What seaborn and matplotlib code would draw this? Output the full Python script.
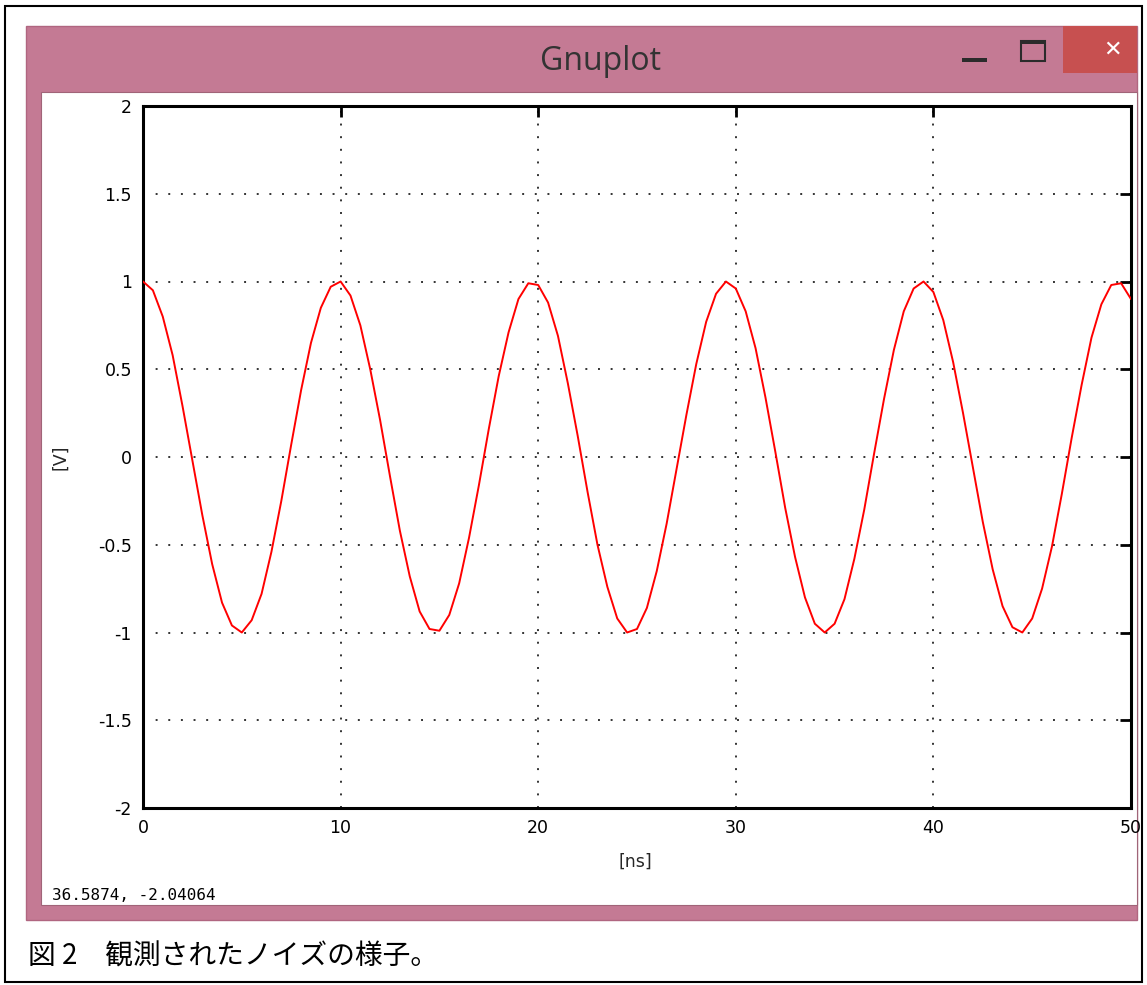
import numpy as np
import pandas as pd
import matplotlib
matplotlib.use("Agg")
import matplotlib.pyplot as plt
from matplotlib.patches import Rectangle
import seaborn as sns

# ---- data (0.5 ns sampling) ----
time_ns = [i * 0.5 for i in range(101)]
voltage = [
    1.00, 0.95, 0.80, 0.58, 0.29, -0.02, -0.33, -0.61, -0.83, -0.96,
    -1.00, -0.93, -0.78, -0.54, -0.25, 0.07, 0.38, 0.65, 0.85, 0.97,
    1.00, 0.92, 0.75, 0.50, 0.21, -0.11, -0.42, -0.68, -0.88, -0.98,
    -0.99, -0.90, -0.72, -0.46, -0.16, 0.16, 0.46, 0.71, 0.90, 0.99,
    0.98, 0.88, 0.69, 0.42, 0.12, -0.20, -0.50, -0.74, -0.92, -1.00,
    -0.98, -0.86, -0.65, -0.38, -0.07, 0.24, 0.53, 0.77, 0.93, 1.00,
    0.96, 0.83, 0.62, 0.34, 0.03, -0.29, -0.57, -0.80, -0.95, -1.00,
    -0.95, -0.81, -0.58, -0.30, 0.02, 0.33, 0.61, 0.83, 0.96, 1.00,
    0.94, 0.78, 0.54, 0.25, -0.06, -0.37, -0.64, -0.85, -0.97, -1.00,
    -0.92, -0.75, -0.51, -0.21, 0.11, 0.41, 0.68, 0.87, 0.98, 0.99,
    0.90,
]
x_ticks = [0, 10, 20, 30, 40, 50]
y_ticks = [-2, -1.5, -1, -0.5, 0, 0.5, 1, 1.5, 2]
y_tick_labels = ["-2", "-1.5", "-1", "-0.5", "0", "0.5", "1", "1.5", "2"]
window_title = "Gnuplot"
x_label = "[ns]"
y_label = "[V]"
status_text = "36.5874, -2.04064"
caption = "図 2\u3000観測されたノイズの様子。"

df = pd.DataFrame({"t": time_ns, "v": voltage})

sns.set_style("white")
plt.rcParams["font.family"] = ["DejaVu Sans"]

W, H = 1147, 985
fig = plt.figure(figsize=(W / 100, H / 100), dpi=100)
fig.patch.set_facecolor("white")

def px_rect(x0, y0, x1, y1, **kw):
    r = Rectangle((x0 / W, 1 - y1 / H), (x1 - x0) / W, (y1 - y0) / H,
                  transform=fig.transFigure, **kw)
    fig.patches.append(r)
    return r

# outer page border
px_rect(5, 6, 1142, 982, facecolor="none", edgecolor="black", linewidth=1.5, zorder=0)
# pink window
px_rect(26, 26, 1137, 920, facecolor="#C47A94", edgecolor="#B06680", linewidth=1, zorder=1)
# white client area
px_rect(41, 92, 1137, 905, facecolor="white", edgecolor="#A06478", linewidth=0.8, zorder=2)
# close button
px_rect(1063, 26, 1137, 73, facecolor="#C75050", edgecolor="none", zorder=3)
# minimize icon
px_rect(962, 58, 987, 62, facecolor="#2b2b2b", edgecolor="none", zorder=3)
# maximize icon
px_rect(1021, 41, 1045, 61, facecolor="none", edgecolor="#2b2b2b", linewidth=1.5, zorder=3)
px_rect(1021, 41, 1045, 44, facecolor="#2b2b2b", edgecolor="none", zorder=3)

fig.text(601 / W, 1 - 61 / H, window_title, ha="center", va="center",
         fontsize=23, color="#333333", family=["Open Sans", "DejaVu Sans"], zorder=4)
fig.text(1113 / W, 1 - 50 / H, "\u2715", ha="center", va="center",
         fontsize=16, color="white", fontweight="bold", zorder=4)
fig.text(52 / W, 1 - 895 / H, status_text, ha="left", va="center",
         fontsize=11.5, color="black", family=["DejaVu Sans Mono"], zorder=4)
fig.text(28 / W, 1 - 957 / H, caption, ha="left", va="center",
         fontsize=20, color="black", family=["Noto Sans CJK JP", "DejaVu Sans"], zorder=4)

# ---- plot axes ----
left, right, top, bottom = 143, 1131, 106, 808
ax = fig.add_axes([left / W, 1 - bottom / H, (right - left) / W, (bottom - top) / H])
ax.set_zorder(5)
ax.set_facecolor("white")

sns.lineplot(data=df, x="t", y="v", ax=ax, color="#ff0000", linewidth=1.4, zorder=3)

ax.set_xlim(0, 50)
ax.set_ylim(-2, 2)
ax.set_xticks(x_ticks)
ax.set_yticks(y_ticks)
ax.set_yticklabels(y_tick_labels)
ax.grid(True, color="#333333", linestyle=(0, (1, 5.5)), linewidth=1.4)
ax.tick_params(direction="in", length=8, width=2, top=True, right=True,
               labelsize=12.5, pad=8, colors="black")
for s in ax.spines.values():
    s.set_visible(True)
    s.set_linewidth(2.2)
    s.set_color("black")
ax.set_xlabel(x_label, fontsize=12.5)
ax.set_ylabel(y_label, fontsize=12.5)
ax.xaxis.set_label_coords((635 - left) / (right - left), -(862 - bottom) / (bottom - top))
ax.yaxis.set_label_coords(-(143 - 60) / (right - left), 0.5)
ax.xaxis.label.set_va("center")
ax.yaxis.label.set_va("center")

fig.savefig("out.png", dpi=100)
